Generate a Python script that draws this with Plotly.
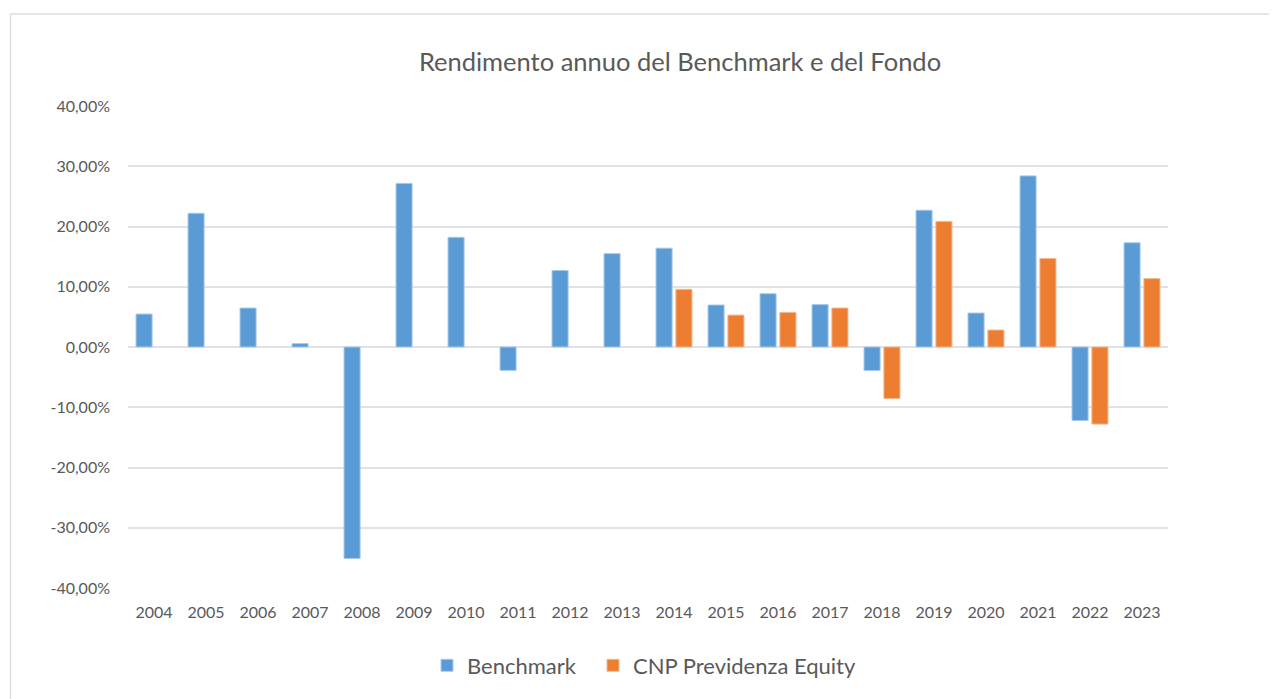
import plotly.graph_objects as go

years = [str(y) for y in range(2004, 2024)]
benchmark = [5.47, 22.2, 6.47, 0.56, -35.1, 27.15, 18.2, -3.88, 12.7, 15.5,
             16.4, 6.97, 8.85, 7.03, -3.9, 22.7, 5.64, 28.4, -12.2, 17.3]
fondo = [None, None, None, None, None, None, None, None, None, None,
         9.57, 5.3, 5.75, 6.47, -8.56, 20.85, 2.82, 14.7, -12.8, 11.35]
y_ticks = [-40, -30, -20, -10, 0, 10, 20, 30, 40]
y_ticktext = [f"{v:.2f}".replace(".", ",") + "%" for v in y_ticks]

OFF = 8  # page body margin
W, H = 1277 - OFF, 699 - OFF
L, R, T, B = 128 - OFF, 1168 - OFF, 106 - OFF, 591 - OFF

def px(x):
    return (x - OFF - L) / (R - L)

def py(y):
    return (B - (y - OFF)) / (B - T)

font_family = "Lato, 'Noto Sans', sans-serif"
text_color = "#595959"

fig = go.Figure()
fig.add_trace(go.Bar(
    x=years, y=benchmark, name="Benchmark", legend="legend",
    marker=dict(color="#5B9BD5", line=dict(color="#a9c9ea", width=1)),
))
fig.add_trace(go.Bar(
    x=years, y=fondo, name="CNP Previdenza Equity", legend="legend2",
    marker=dict(color="#ED7D31", line=dict(color="#f5b98f", width=1)),
))

legend_common = dict(
    orientation="h", xanchor="left", y=py(669), yanchor="middle",
    font=dict(size=22, color=text_color), itemwidth=30,
    bgcolor="rgba(0,0,0,0)",
)

fig.update_layout(
    width=W, height=H,
    margin=dict(l=L, r=W - R, t=T, b=H - B, pad=0),
    paper_bgcolor="white", plot_bgcolor="white",
    barmode="group", bargap=0.236, bargroupgap=0.19,
    font=dict(family=font_family, color=text_color, size=16),
    title=dict(
        text="Rendimento annuo del Benchmark e del Fondo",
        x=(680 - OFF) / W, xanchor="center", xref="container",
        y=1 - (62 - OFF) / H, yanchor="middle", yref="container",
        font=dict(size=25.5, color=text_color, family=font_family),
    ),
    showlegend=True,
    legend=dict(x=px(427), **legend_common),
    legend2=dict(x=px(593), **legend_common),
    shapes=[dict(
        type="rect", xref="paper", yref="paper",
        x0=px(10.5), x1=px(1300), y0=py(13.5), y1=py(730),
        line=dict(color="#dcdfe4", width=1.5), fillcolor="rgba(0,0,0,0)",
        layer="below",
    )],
)

fig.update_xaxes(
    type="category", showgrid=False, showline=False, zeroline=False,
    ticks="", ticklabelstandoff=13,
    tickfont=dict(size=16, color=text_color),
)
fig.update_yaxes(
    range=[-40, 40], tickvals=y_ticks, ticktext=y_ticktext,
    showgrid=True, gridcolor="#dfe2e8", gridwidth=1.5,
    zeroline=True, zerolinecolor="#dfe2e8", zerolinewidth=1.5,
    showline=False, ticks="", ticklabelstandoff=17,
    tickfont=dict(size=16, color=text_color),
)

fig.write_html("out.html")
